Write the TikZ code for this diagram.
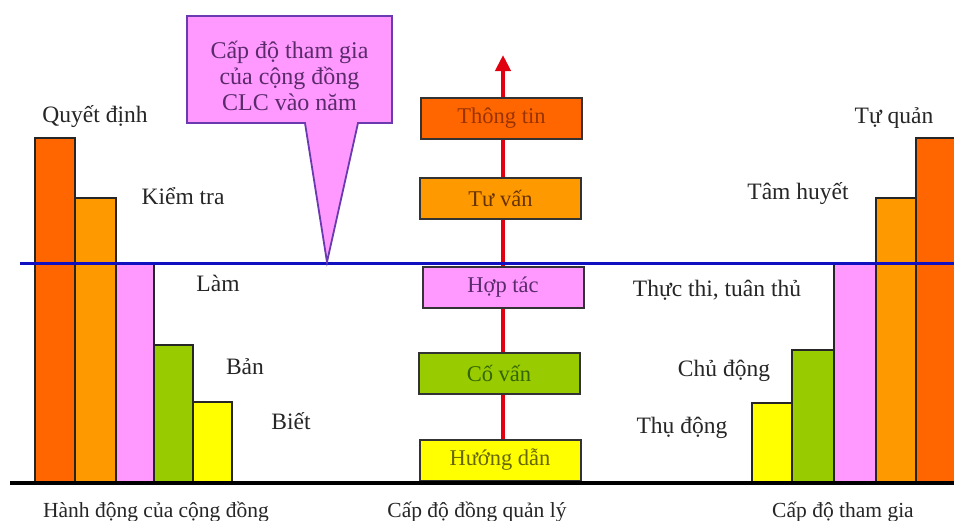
\documentclass[tikz,border=0pt]{standalone}
\usepackage{fontspec}
\setmainfont{Liberation Serif}
\usetikzlibrary{arrows.meta}
\pgfdeclarelayer{paper}
\pgfdeclarelayer{behind}
\pgfsetlayers{paper,behind,main}
\definecolor{cRed}{HTML}{FF6600}
\definecolor{cOrange}{HTML}{FF9900}
\definecolor{cPink}{HTML}{FF99FF}
\definecolor{cGreen}{HTML}{99CC00}
\definecolor{cYellow}{HTML}{FFFF00}
\definecolor{cBlue}{HTML}{1010C0}
\definecolor{cArrow}{HTML}{E00010}
\definecolor{cCallText}{HTML}{5A2A6A}
\definecolor{cCallEdge}{HTML}{6A3AB0}
\definecolor{cText}{HTML}{262626}
\definecolor{tThong}{HTML}{993300}
\definecolor{tTu}{HTML}{663300}
\definecolor{tCo}{HTML}{336600}
\definecolor{tHuong}{HTML}{666600}
\begin{document}
\begin{tikzpicture}[x=1pt,y=-1pt,
  bar/.style={draw=black!85,line width=2pt},
  lbl/.style={font=\fontsize{23.5}{27}\selectfont,text=cText,anchor=base,inner sep=0pt},
  btm/.style={font=\fontsize{21.5}{25}\selectfont,text=cText,anchor=base,inner sep=0pt},
  lvl/.style={draw=black!80,line width=2pt,minimum width=161pt,minimum height=41pt,inner sep=0pt,font=\fontsize{22.5}{27}\selectfont}
]
\useasboundingbox (0,0) rectangle (954,520);
\begin{pgfonlayer}{paper}
\fill[white] (0,0) rectangle (954,520);
\end{pgfonlayer}
\clip (0,0) rectangle (954,520);
\coordinate (tip) at (503,55);
% left bars
\draw[bar,fill=cRed] (35,138) rectangle (75,482);
\draw[bar,fill=cOrange] (75,198) rectangle (116,482);
\draw[bar,fill=cPink] (116,263) rectangle (154,482);
\draw[bar,fill=cGreen] (154,345) rectangle (193,482);
\draw[bar,fill=cYellow] (193,402) rectangle (232,482);
% right bars
\draw[bar,fill=cYellow] (752,403) rectangle (792,482);
\draw[bar,fill=cGreen] (792,350) rectangle (834,482);
\draw[bar,fill=cPink] (834,263) rectangle (876,482);
\draw[bar,fill=cOrange] (876,198) rectangle (916,482);
\draw[bar,fill=cRed] (916,138) rectangle (960,482);
% level boxes
\node[lvl,fill=cYellow,text=tHuong] (huong) at (500,460) {Hướng dẫn};
\node[lvl,fill=cGreen,text=tCo] (covan) at (499,373.5) {Cố vấn};
\node[lvl,fill=cPink,text=cCallText] (hoptac) at (503,287) {Hợp tác};
\node[lvl,fill=cOrange,text=tTu] (tuvan) at (500.5,198) {Tư vấn};
\node[lvl,fill=cRed,text=tThong] (thongtin) at (501.5,118) {Thông tin};
% arrow behind the boxes
\begin{pgfonlayer}{behind}
\draw[cArrow,line width=4pt,-{Triangle[width=15pt,length=16pt]}] (huong.north -| tip) -- (tip);
\end{pgfonlayer}
% baseline and blue line
\coordinate (bl) at (10,483);
\coordinate (br) at (954,483);
\draw[black,line width=4.5pt] (bl) -- (br);
\coordinate (ul) at (20,263);
\coordinate (ur) at (954,263);
\draw[cBlue,line width=3pt] (ul) -- (ur);
% callout
\coordinate (ctip) at (327,262);
\draw[cCallEdge,line width=1.8pt,fill=cPink,line join=miter]
  (187,16) -- (392,16) -- (392,123) -- (358,123) -- (ctip) -- (305,123) -- (187,123) -- cycle;
\node[font=\fontsize{24}{26}\selectfont,text=cCallText,align=center,inner sep=0pt] (call) at (289.5,76) {Cấp độ tham gia\\của cộng đồng\\CLC vào năm};
% labels
\node[lbl] (l1) at (95,122) {Quyết định};
\node[lbl] (l2) at (183,204) {Kiểm tra};
\node[lbl] (l3) at (218,291) {Làm};
\node[lbl] (l4) at (245,374) {Bản};
\node[lbl] (l5) at (291,429) {Biết};
\node[lbl] (r1) at (894,123) {Tự quản};
\node[lbl] (r2) at (798,199) {Tâm huyết};
\node[lbl] (r3) at (717,296) {Thực thi, tuân thủ};
\node[lbl] (r4) at (724,376) {Chủ động};
\node[lbl] (r5) at (682,433) {Thụ động};
\node[btm] (b1) at (156,517) {Hành động của cộng đồng};
\node[btm] (b2) at (477,517) {Cấp độ đồng quản lý};
\node[btm] (b3) at (843,517) {Cấp độ tham gia};
\end{tikzpicture}
\end{document}
